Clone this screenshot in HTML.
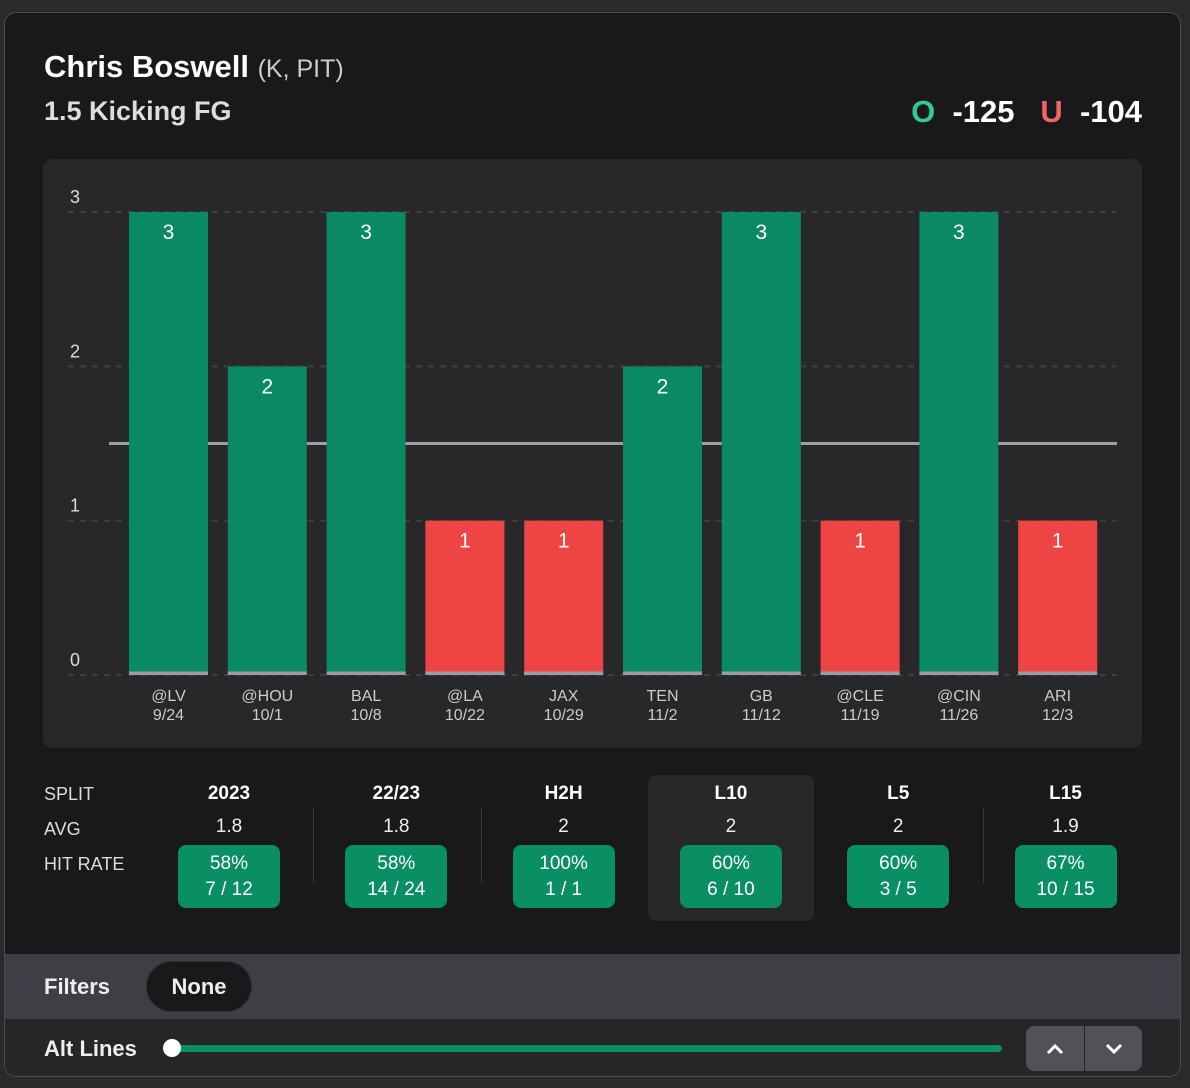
<!DOCTYPE html>
<html><head><meta charset="utf-8"><style>
body{margin:0;width:1190px;height:1088px;background:#2a2a2d;font-family:"Liberation Sans",sans-serif;overflow:hidden;position:relative}
.card{position:absolute;left:4px;top:12px;width:1175px;height:1063px;background:#19191c;border:1px solid #4a4a4f;border-radius:12px;overflow:hidden}
.abs{position:absolute}
.t{color:#fff}
.col{position:absolute;top:775px;width:166px;height:146px;text-align:center;color:#fff}
.col .h{position:absolute;top:8px;width:100%;font-weight:bold;font-size:19px}
.col .a{position:absolute;top:41px;width:100%;font-size:19px;color:#eee}
.col .b{position:absolute;top:70px;left:32px;width:102px;height:63px;background:#0a8f65;border-radius:8px;font-size:19px;line-height:26px;padding-top:6px;box-sizing:border-box}
.div{position:absolute;top:807px;width:1px;height:76px;background:#3a3a3e}
.lab{position:absolute;left:44px;color:#ddd;font-size:18px}
</style></head><body>
<div class="card">
<div class="abs" style="left:39px;top:36px;font-size:31px;font-weight:bold;color:#fff">Chris Boswell <span style="font-weight:normal;font-size:25px;color:#ccc">(K, PIT)</span></div>
<div class="abs" style="left:39px;top:83px;font-size:27px;font-weight:bold;color:#ddd">1.5 Kicking FG</div>
<div class="abs" style="right:38px;top:81px;font-size:31px;font-weight:bold;color:#fff;white-space:nowrap"><span style="color:#2ecc90">O</span>&nbsp; -125&nbsp;&nbsp; <span style="color:#f06565">U</span>&nbsp; -104</div>
<div class="abs" style="left:38px;top:146px;width:1099px;height:589px;background:#28282b;border-radius:10px"></div>
<svg class="abs" style="left:-5px;top:-13px" width="1190" height="1088" id="chart"></svg>
<div class="abs" style="left:643px;top:762px;width:166px;height:146px;background:#28282b;border-radius:8px"></div>
</div>
<div class="lab" style="top:784px">SPLIT</div>
<div class="lab" style="top:819px">AVG</div>
<div class="lab" style="top:854px">HIT RATE</div>
<div id="splits"></div>
<div class="abs" style="left:5px;top:954px;width:1175px;height:65px;background:#3e3f44"></div>
<div class="abs" style="left:44px;top:974px;font-size:22px;font-weight:bold;color:#eee">Filters</div>
<div class="abs" style="left:146px;top:961px;width:106px;height:51px;background:#19191c;border:1px solid #2e2e32;border-radius:26px;box-sizing:border-box;text-align:center;line-height:49px;font-size:22px;font-weight:bold;color:#eee">None</div>
<div class="abs" style="left:5px;top:1019px;width:1175px;height:57px;background:#262628;border-radius:0 0 12px 12px"></div>
<div class="abs" style="left:44px;top:1036px;font-size:22px;font-weight:bold;color:#eee">Alt Lines</div>
<div class="abs" style="left:172px;top:1045px;width:830px;height:7px;background:#0a8f65;border-radius:4px"></div>
<div class="abs" style="left:163px;top:1039px;width:18px;height:18px;background:#fff;border-radius:50%"></div>
<div class="abs" style="left:1026px;top:1026px;width:58px;height:45px;background:#515158;border-radius:8px 0 0 8px;color:#fff;text-align:center;line-height:45px"><svg width="20" height="12" style="vertical-align:middle"><polyline points="3,10 10,3 17,10" fill="none" stroke="#fff" stroke-width="3"/></svg></div>
<div class="abs" style="left:1085px;top:1026px;width:57px;height:45px;background:#515158;border-radius:0 8px 8px 0;text-align:center;line-height:45px"><svg width="20" height="12" style="vertical-align:middle"><polyline points="3,2 10,9 17,2" fill="none" stroke="#fff" stroke-width="3"/></svg></div>
<script>
const opponents=["@LV","@HOU","BAL","@LA","JAX","TEN","GB","@CLE","@CIN","ARI"];
const dates=["9/24","10/1","10/8","10/22","10/29","11/2","11/12","11/19","11/26","12/3"];
const values=[3,2,3,1,1,2,3,1,3,1];
const yTicks=[0,1,2,3];
const propLine=1.5;
const splitNames=["2023","22/23","H2H","L10","L5","L15"];
const splitAvg=["1.8","1.8","2","2","2","1.9"];
const splitPct=["58%","58%","100%","60%","60%","67%"];
const splitFrac=["7 / 12","14 / 24","1 / 1","6 / 10","3 / 5","10 / 15"];
const NS="http://www.w3.org/2000/svg";
const svg=document.getElementById('chart');
const y=v=>675-v*154.33;
const x=i=>168.5+i*98.8;
function el(t,a){const e=document.createElementNS(NS,t);for(const k in a)e.setAttribute(k,a[k]);svg.appendChild(e);return e;}
yTicks.forEach(v=>{
 const g=el('line',{x1:68,x2:1117,y1:y(v),y2:y(v),stroke:'#3d3d42','stroke-width':2,'stroke-dasharray':'6 6'});
 
 
 const t=el('text',{x:75,y:y(v)-9,fill:'#ddd','font-size':18,'text-anchor':'middle','font-family':'Liberation Sans'});
 t.textContent=v;
 
 
});
const pl=el('line',{x1:109,x2:1117,y1:y(propLine),y2:y(propLine),stroke:'#a0a0a4','stroke-width':3});


values.forEach((v,i)=>{
 const c=v>propLine?'#0a8a63':'#ef4444';
 const b=el('rect',{x:x(i)-39.5,y:y(v),width:79,height:y(0)-y(v),fill:c});
 
 
 const s=el('rect',{x:x(i)-39.5,y:y(0)-3.5,width:79,height:3.5,fill:'#9c9ca4'});
 
 
 const vl=el('text',{x:x(i),y:y(v)+27,fill:'#fff','font-size':21,'text-anchor':'middle','font-family':'Liberation Sans'});
 vl.textContent=v;
 
 
 const o=el('text',{x:x(i),y:701,fill:'#ccc','font-size':16,'text-anchor':'middle','font-family':'Liberation Sans'});
 o.textContent=opponents[i];
 
 
 const d=el('text',{x:x(i),y:720,fill:'#ccc','font-size':16,'text-anchor':'middle','font-family':'Liberation Sans'});
 d.textContent=dates[i];
 
 
});
const sp=document.getElementById('splits');
splitNames.forEach((n,i)=>{
 const c=document.createElement('div');
 c.className='col';
 c.style.left=(146+i*167.3)+'px';
 
 
 c.innerHTML='<div class="h">'+n+'</div><div class="a">'+splitAvg[i]+'</div><div class="b">'+splitPct[i]+'<br>'+splitFrac[i]+'</div>';
 sp.appendChild(c);
 if(i>0&&i!==3&&i!==4){const d=document.createElement('div');d.className='div';d.style.left=(146+i*167.3)+'px';
 
 
 sp.appendChild(d);}
});
</script>
</body></html>
